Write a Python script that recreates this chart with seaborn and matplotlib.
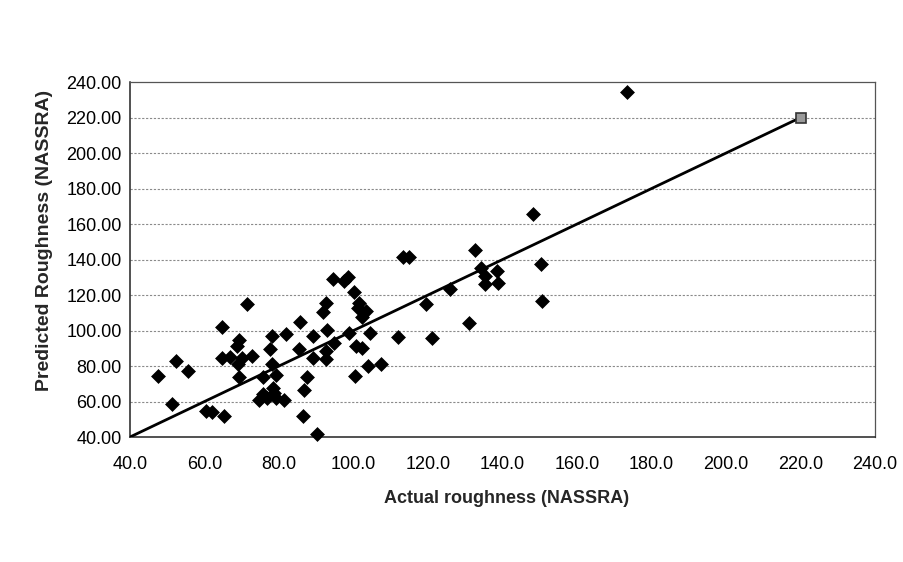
import matplotlib
matplotlib.use("Agg")
import matplotlib.pyplot as plt
import seaborn as sns
import pandas as pd
from matplotlib.ticker import FormatStrFormatter

# Measured vs predicted roughness (NASSRA counts)
actual = [
    47.6, 51.2, 52.3, 55.7, 60.3, 61.9, 64.6, 64.6, 65.3, 66.8,
    69.1, 69.3, 68.6, 69.3, 70.1, 71.3, 72.8, 74.6, 75.8, 76.7,
    75.8, 77.6, 78.0, 78.0, 78.3, 78.6, 79.1, 79.1, 81.3, 81.8,
    85.4, 85.7, 86.5, 86.7, 87.6, 89.0, 89.0, 90.3, 91.9, 92.5,
    92.5, 92.5, 92.8, 94.4, 94.8, 97.5, 98.4, 98.8, 100.0, 100.4,
    100.7, 101.1, 101.5, 102.4, 102.4, 103.3, 104.0, 104.4, 107.4, 112.0,
    113.4, 115.0, 119.5, 121.0, 126.0, 131.0, 132.6, 134.2, 135.4, 135.4,
    138.4, 138.8, 148.3, 150.3, 150.7, 173.4,
]
predicted = [
    74.4, 58.4, 82.8, 77.2, 54.9, 54.1, 101.8, 84.3, 52.0, 84.9,
    81.1, 73.8, 91.3, 94.6, 84.3, 114.9, 85.9, 60.8, 64.2, 62.0,
    74.0, 89.6, 97.1, 81.1, 67.8, 65.0, 62.0, 74.9, 60.8, 97.9,
    89.6, 105.0, 51.8, 66.5, 74.0, 96.9, 84.7, 41.7, 110.4, 115.7,
    88.7, 84.2, 100.3, 128.8, 92.8, 128.0, 130.0, 98.8, 121.9, 74.6,
    91.0, 112.5, 115.7, 107.8, 90.0, 111.2, 80.2, 98.8, 81.0, 96.6,
    141.2, 141.2, 114.7, 95.6, 123.2, 104.1, 145.4, 135.0, 130.9, 126.0,
    133.7, 127.0, 165.5, 137.6, 116.8, 234.4,
]

# Line of equality
line_x = [40.0, 220.0]
line_y = [40.0, 220.0]

x_ticks = [40, 60, 80, 100, 120, 140, 160, 180, 200, 220, 240]
y_ticks = [40, 60, 80, 100, 120, 140, 160, 180, 200, 220, 240]

points = pd.DataFrame({"actual": actual, "predicted": predicted})
equality = pd.DataFrame({"actual": line_x, "predicted": line_y})

sns.set_style("white")
plt.rcParams["font.family"] = ["Liberation Sans", "DejaVu Sans"]

fig = plt.figure(figsize=(9.04, 5.62), dpi=100)
ax = fig.add_axes([0.1438, 0.2224, 0.8242, 0.6316])

for v in y_ticks[1:-1]:
    ax.axhline(v, color="#8a8a8a", lw=0.8, ls=(0, (2, 1.5)), zorder=0)

sns.lineplot(data=equality, x="actual", y="predicted", ax=ax, color="black",
             lw=2.0, zorder=3, legend=False)
ax.plot(line_x[-1], line_y[-1], marker="s", ms=7, mfc="#9a9a9a", mec="#333333",
        mew=1.2, zorder=4, clip_on=False)

sns.scatterplot(data=points, x="actual", y="predicted", ax=ax, marker="D",
                s=50, color="black", edgecolor="black", linewidth=0.5,
                zorder=5, clip_on=False, legend=False)

ax.set_xlim(40, 240)
ax.set_ylim(40, 240)
ax.set_xticks(x_ticks)
ax.set_yticks(y_ticks)
ax.xaxis.set_major_formatter(FormatStrFormatter("%.1f"))
ax.yaxis.set_major_formatter(FormatStrFormatter("%.2f"))
ax.tick_params(axis="both", labelsize=13, colors="black", length=3,
               direction="out", width=0.8)
ax.tick_params(axis="x", pad=11)
ax.tick_params(axis="y", pad=3)

for side in ["left", "bottom"]:
    ax.spines[side].set_color("#222222")
    ax.spines[side].set_linewidth(1.1)
for side in ["top", "right"]:
    ax.spines[side].set_color("#555555")
    ax.spines[side].set_linewidth(0.9)

ax.set_xlabel("Actual roughness (NASSRA)", fontsize=13, fontweight="bold")
ax.set_ylabel("Predicted Roughness (NASSRA)", fontsize=14, fontweight="bold")
ax.xaxis.set_label_coords(0.505, -0.150)
ax.yaxis.set_label_coords(-0.104, 0.555)

fig.savefig("out.png", dpi=100, facecolor="white")
